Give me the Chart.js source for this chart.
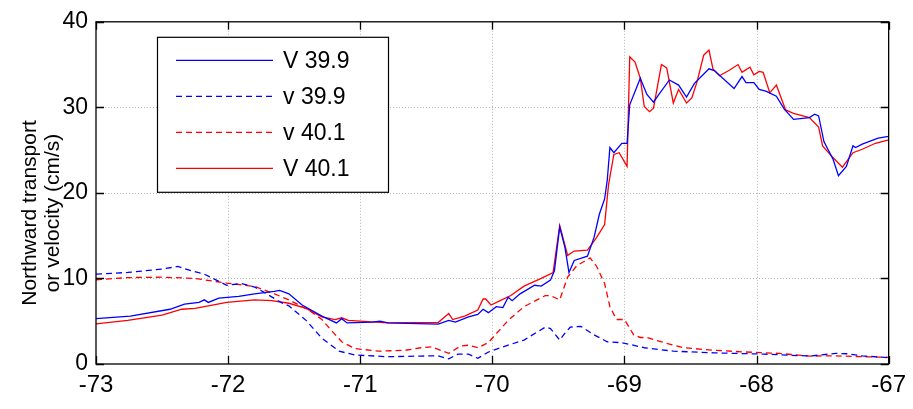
<!DOCTYPE html>
<html><head><meta charset="utf-8">
<script src="https://cdn.jsdelivr.net/npm/chart.js@4/dist/chart.umd.min.js"></script>
<style>html,body{margin:0;padding:0;background:#fff;overflow:hidden}#wrap{width:913px;height:409px}</style>
</head><body><div id="wrap"><canvas id="c" width="913" height="409"></canvas></div>
<script>
const xTicks = [-73, -72, -71, -70, -69, -68, -67];
const yTicks = [0, 10, 20, 30, 40];
const seriesLabels = ['V 39.9', 'v 39.9', 'v 40.1', 'V 40.1'];
const yTitle = ['Northward transport', 'or velocity (cm/s)'];

// V 39.9 (solid blue)
const V399Lon = [-73.00,-72.74,-72.44,-72.33,-72.22,-72.18,-72.15,-72.07,-71.92,-71.80,-71.65,-71.61,-71.54,-71.44,-71.29,-71.18,-71.14,-71.10,-70.91,-70.85,-70.79,-70.41,-70.33,-70.28,-70.18,-70.11,-70.07,-70.03,-69.97,-69.92,-69.88,-69.85,-69.79,-69.68,-69.63,-69.56,-69.53,-69.49,-69.45,-69.42,-69.38,-69.28,-69.23,-69.19,-69.15,-69.13,-69.11,-69.08,-69.02,-68.98,-68.96,-68.88,-68.83,-68.78,-68.74,-68.66,-68.59,-68.53,-68.47,-68.36,-68.32,-68.17,-68.11,-68.08,-68.02,-67.98,-67.93,-67.85,-67.79,-67.72,-67.60,-67.56,-67.53,-67.49,-67.42,-67.38,-67.32,-67.27,-67.25,-67.20,-67.08,-67.00];
const V399Val = [5.3,5.6,6.4,7.0,7.2,7.5,7.2,7.7,7.9,8.2,8.5,8.6,8.2,6.9,5.6,4.8,5.3,4.8,4.9,5.0,4.8,4.65,5.1,4.9,5.5,5.8,6.4,6.0,6.7,6.6,7.8,7.4,8.2,9.2,9.1,9.8,10.9,16.0,13.6,10.7,12.1,12.6,14.8,17.5,19.3,21.5,25.3,24.7,25.8,25.8,30.3,33.4,31.5,30.6,31.5,33.2,32.6,31.2,32.8,34.5,34.3,32.2,33.6,32.9,32.9,32.1,31.9,31.3,29.8,28.6,28.8,29.2,29.0,26.0,23.9,22.0,23.1,25.5,25.3,25.7,26.4,26.6];

// v 39.9 (dashed blue)
const v399Lon = [-73.00,-72.76,-72.50,-72.38,-72.28,-72.18,-72.01,-71.90,-71.80,-71.73,-71.60,-71.54,-71.41,-71.29,-71.16,-71.04,-70.79,-70.54,-70.41,-70.33,-70.26,-70.18,-70.11,-70.03,-69.88,-69.76,-69.60,-69.56,-69.49,-69.45,-69.41,-69.33,-69.23,-69.13,-69.03,-68.96,-68.85,-68.63,-68.32,-67.95,-67.60,-67.40,-67.32,-67.20,-67.00];
const v399Val = [10.5,10.7,11.1,11.4,10.9,10.5,9.2,9.4,9.0,8.4,7.2,6.8,5.1,3.0,1.5,1.05,0.85,0.93,0.95,0.6,1.16,1.16,0.66,1.4,2.2,2.8,4.3,4.15,2.8,3.6,4.3,4.4,3.4,2.6,2.5,2.3,1.9,1.5,1.3,1.16,0.93,1.24,1.2,0.95,0.73];

// v 40.1 (dashed red)
const v401Lon = [-73.00,-72.76,-72.50,-72.25,-72.01,-71.80,-71.65,-71.54,-71.39,-71.29,-71.22,-71.14,-71.04,-70.86,-70.66,-70.54,-70.46,-70.33,-70.24,-70.18,-70.11,-70.03,-69.88,-69.76,-69.60,-69.56,-69.49,-69.43,-69.36,-69.26,-69.21,-69.15,-69.11,-69.06,-69.00,-68.93,-68.88,-68.83,-68.70,-68.55,-68.32,-68.08,-67.83,-67.60,-67.40,-67.20,-67.00];
const v401Val = [9.85,10.1,10.15,10.0,9.45,9.07,8.2,7.5,6.3,5.2,3.95,2.6,1.8,1.5,1.6,1.9,2.0,1.25,2.1,2.2,1.9,2.5,5.1,6.7,8.0,8.0,7.5,10.15,11.5,12.4,11.4,9.4,6.7,5.2,5.2,3.4,3.1,3.1,2.5,1.9,1.6,1.4,1.24,0.93,0.95,0.85,0.78];

// V 40.1 (solid red)
const V401Lon = [-73.00,-72.76,-72.50,-72.35,-72.25,-72.18,-72.01,-71.80,-71.67,-71.54,-71.41,-71.29,-71.19,-71.14,-71.09,-70.79,-70.41,-70.33,-70.30,-70.21,-70.11,-70.07,-70.05,-70.01,-69.94,-69.86,-69.76,-69.63,-69.54,-69.49,-69.43,-69.38,-69.28,-69.21,-69.15,-69.12,-69.08,-69.04,-68.98,-68.96,-68.92,-68.88,-68.85,-68.81,-68.78,-68.72,-68.68,-68.63,-68.59,-68.53,-68.49,-68.45,-68.40,-68.36,-68.33,-68.28,-68.20,-68.14,-68.11,-68.05,-68.02,-67.98,-67.95,-67.90,-67.85,-67.78,-67.72,-67.60,-67.53,-67.50,-67.42,-67.35,-67.27,-67.20,-67.10,-67.00];
const V401Val = [4.7,5.1,5.7,6.4,6.5,6.7,7.2,7.5,7.4,7.1,6.5,5.5,5.2,5.4,5.1,4.8,4.85,5.9,5.2,5.6,6.3,7.6,7.6,6.9,7.4,8.0,9.1,10.0,10.7,16.2,12.7,13.2,13.3,14.8,16.3,21.0,24.5,24.7,23.1,35.9,35.3,33.4,30.1,29.5,29.9,35.0,34.6,30.5,32.1,30.5,31.1,33.0,36.1,36.7,34.5,33.7,34.4,35.0,34.1,34.7,33.8,34.2,34.1,31.7,32.6,29.7,29.3,28.8,27.7,25.5,24.1,23.0,24.7,25.1,25.8,26.2];

const pts = (lon, val) => lon.map((x, i) => ({ x, y: val[i] }));
const FONT = '"Liberation Sans", Arial, Helvetica, sans-serif';

const frame = {
  id: 'frame',
  beforeDatasetsDraw(chart) {
    const { ctx, chartArea: a, scales: { x, y } } = chart;
    ctx.save();
    ctx.strokeStyle = '#b4b4b4';
    ctx.lineWidth = 1;
    ctx.setLineDash([1, 2]);
    xTicks.slice(1, -1).forEach(t => {
      const p = Math.round(x.getPixelForValue(t)) + 0.5;
      ctx.beginPath(); ctx.moveTo(p, a.top); ctx.lineTo(p, a.bottom); ctx.stroke();
    });
    yTicks.slice(1, -1).forEach(t => {
      const p = Math.round(y.getPixelForValue(t)) + 0.5;
      ctx.beginPath(); ctx.moveTo(a.left, p); ctx.lineTo(a.right, p); ctx.stroke();
    });
    ctx.restore();
  },
  afterDatasetsDraw(chart) {
    const { ctx, chartArea: a, scales: { x, y } } = chart;
    ctx.save();
    ctx.strokeStyle = '#000';
    ctx.lineWidth = 1.3;
    ctx.setLineDash([]);
    ctx.strokeRect(a.left, a.top, a.right - a.left, a.bottom - a.top);
    const tl = 8;
    xTicks.forEach(t => {
      const p = Math.round(x.getPixelForValue(t)) + 0.5;
      ctx.beginPath(); ctx.moveTo(p, a.bottom); ctx.lineTo(p, a.bottom - tl);
      ctx.moveTo(p, a.top); ctx.lineTo(p, a.top + tl); ctx.stroke();
    });
    yTicks.forEach(t => {
      const p = Math.round(y.getPixelForValue(t)) + 0.5;
      ctx.beginPath(); ctx.moveTo(a.left, p); ctx.lineTo(a.left + tl, p);
      ctx.moveTo(a.right, p); ctx.lineTo(a.right - tl, p); ctx.stroke();
    });
    // y axis title
    ctx.save();
    ctx.fillStyle = '#000';
    ctx.font = '21px ' + FONT;
    ctx.textAlign = 'center';
    ctx.textBaseline = 'middle';
    ctx.translate(0, 213);
    ctx.rotate(-Math.PI / 2);
    ctx.fillText(yTitle[0], 0, 30);
    ctx.fillText(yTitle[1], 0, 53);
    ctx.restore();
    // legend
    const bx = a.left + 61, by = a.top + 15, bw = 231, bh = 155;
    ctx.fillStyle = '#fff';
    ctx.fillRect(bx, by, bw, bh);
    ctx.lineWidth = 1.2;
    ctx.strokeStyle = '#000';
    ctx.strokeRect(bx + 0.5, by + 0.5, bw, bh);
    [0, 1, 2, 3].forEach((di, k) => {
      const ds = chart.data.datasets[di];
      const yy = by + 23.5 + k * 36;
      ctx.strokeStyle = ds.borderColor;
      ctx.lineWidth = 1.3;
      ctx.setLineDash(ds.borderDash || []);
      ctx.beginPath(); ctx.moveTo(bx + 19, yy); ctx.lineTo(bx + 116, yy); ctx.stroke();
      ctx.setLineDash([]);
      ctx.fillStyle = '#000';
      ctx.font = '23px ' + FONT;
      ctx.textBaseline = 'middle';
      ctx.textAlign = 'left';
      ctx.fillText(ds.label, bx + 126, yy + 1);
    });
    ctx.restore();
  }
};

new Chart(document.getElementById('c'), {
  type: 'line',
  data: {
    datasets: [
      { label: seriesLabels[0], data: pts(V399Lon, V399Val), borderColor: '#0000ff', borderWidth: 1.3 },
      { label: seriesLabels[1], data: pts(v399Lon, v399Val), borderColor: '#0000ff', borderWidth: 1.3, borderDash: [6, 4] },
      { label: seriesLabels[2], data: pts(v401Lon, v401Val), borderColor: '#ff0000', borderWidth: 1.3, borderDash: [6, 4] },
      { label: seriesLabels[3], data: pts(V401Lon, V401Val), borderColor: '#ff0000', borderWidth: 1.3 }
    ]
  },
  options: {
    responsive: false,
    animation: false,
    devicePixelRatio: 1,
    elements: { point: { radius: 0 }, line: { tension: 0 } },
    layout: { padding: { top: 20, right: 20, left: 0, bottom: 0 } },
    plugins: { legend: { display: false }, tooltip: { enabled: false } },
    scales: {
      x: {
        type: 'linear', min: -73, max: -67,
        afterBuildTicks: s => { s.ticks = xTicks.map(v => ({ value: v })); },
        ticks: { color: '#000', font: { family: FONT, size: 24 }, padding: 7, maxRotation: 0, autoSkip: false },
        grid: { display: false, drawTicks: false },
        border: { display: false },
        afterFit: s => { s.height = 45; }
      },
      y: {
        type: 'linear', min: 0, max: 40,
        afterBuildTicks: s => { s.ticks = yTicks.map(v => ({ value: v })); },
        ticks: { color: '#000', font: { family: FONT, size: 23 }, padding: 8 },
        grid: { display: false, drawTicks: false },
        border: { display: false },
        afterFit: s => { s.width = 96; }
      }
    }
  },
  plugins: [frame]
});
</script>
</body></html>
